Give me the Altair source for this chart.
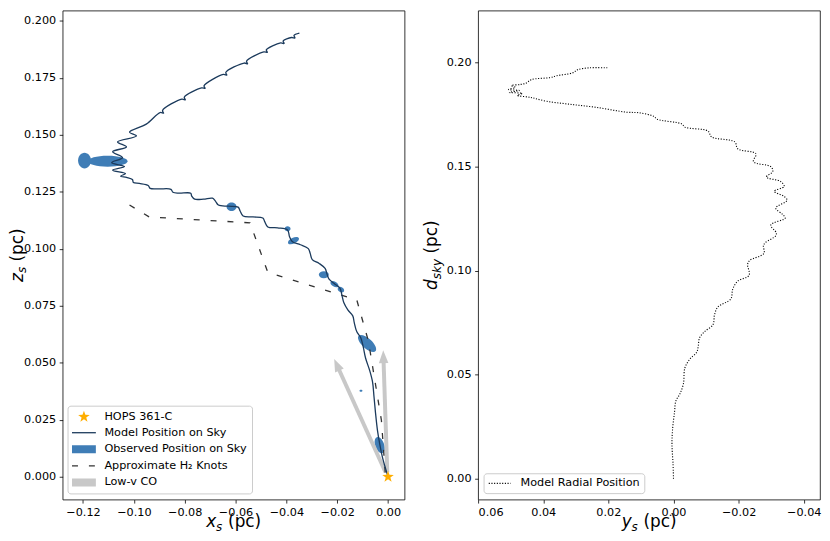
import math
import altair as alt
import pandas as pd

# ---------------- data (pc) ----------------
model_x = [0.0, -0.00105, -0.00222, -0.00319, -0.00416, -0.00494, -0.00552, -0.0061, -0.00727, -0.00882,
           -0.0098, -0.01077, -0.01232, -0.01329, -0.01388, -0.01582, -0.01737, -0.01815, -0.01893, -0.02087,
           -0.0232, -0.02398, -0.02476, -0.02709, -0.02981, -0.03059, -0.03137, -0.03448, -0.03759, -0.03875,
           -0.03953, -0.04342, -0.0473, -0.04847, -0.04925, -0.05313, -0.05702, -0.05819, -0.05897, -0.06285,
           -0.06674, -0.06791, -0.06907, -0.07257, -0.07607, -0.07723, -0.07762, -0.08229, -0.08462, -0.0854,
           -0.09006, -0.09356, -0.09434, -0.09784, -0.10017, -0.10056, -0.10289, -0.10522, -0.10328, -0.10833,
           -0.10367, -0.10872, -0.10444, -0.10833, -0.10289, -0.10639, -0.099, -0.10172, -0.09511,
           -0.08967, -0.08831, -0.0887, -0.08112, -0.07976, -0.08015, -0.07335, -0.07199, -0.07238,
           -0.0648, -0.06344, -0.06382, -0.05663, -0.05527, -0.05566, -0.04886, -0.0475, -0.04789,
           -0.04225, -0.04089, -0.04128, -0.03798, -0.03662, -0.037, -0.03487]
model_z = [0.0, 0.0039, 0.00867, 0.01387, 0.02037, 0.02817, 0.0351, 0.0416, 0.0468, 0.052,
           0.0572, 0.0611, 0.0637, 0.0676, 0.0706, 0.0732, 0.0763, 0.0797, 0.0828, 0.0845,
           0.0867, 0.0888, 0.0914, 0.0936, 0.0953, 0.0979, 0.1001, 0.1018, 0.1031, 0.1053,
           0.1083, 0.1092, 0.1096, 0.1118, 0.1135, 0.114, 0.1144, 0.1166, 0.1183, 0.1187,
           0.1192, 0.1209, 0.1222, 0.1218, 0.1218, 0.1231, 0.1244, 0.1244, 0.1248, 0.1261,
           0.1263, 0.1265, 0.1278, 0.1287, 0.1291, 0.1304, 0.1313, 0.1319, 0.133, 0.1345,
           0.1361, 0.1378, 0.14, 0.1426, 0.1447, 0.1469, 0.1495, 0.1512, 0.1547,
           0.1598, 0.1595, 0.1607, 0.1657, 0.1654, 0.1665, 0.1706, 0.1704, 0.1715,
           0.1765, 0.1762, 0.1774, 0.1815, 0.1812, 0.1823, 0.1864, 0.1862, 0.1873,
           0.1903, 0.1901, 0.1912, 0.1927, 0.1925, 0.1936, 0.1946]

h2_x = [-0.1017, -0.0940, -0.0543, -0.0473, -0.0123, -0.0077, -0.0026, -0.0010]
h2_z = [0.1192, 0.1140, 0.1114, 0.0897, 0.0776, 0.0594, 0.0247, 0.0]

obs_x = [-0.1194, -0.1103, -0.06157, -0.03953, -0.0372, -0.02527, -0.02107, -0.01854, -0.00824, -0.01065, -0.00327]
obs_z = [0.1387, 0.1384, 0.1185, 0.1088, 0.1036, 0.0886, 0.0845, 0.0821, 0.0585, 0.0377, 0.01387]
obs_major = [16, 40, 10, 6, 12, 10, 9, 7, 23, 3, 17]
obs_minor = [13, 11, 8.5, 5, 6, 7, 5, 5, 10, 2, 9]
obs_angle = [90, 0, 0, 0, 335, 0, 30, 30, 42, 0, 70]

co_x0 = [-0.0010, -0.0003]
co_z0 = [0.002, 0.002]
co_x1 = [-0.0199, -0.0018]
co_z1 = [0.0485, 0.0520]
co_angle = [335.7, 358.2]

src_x = [0.0]
src_z = [0.0]

radial_y = [0.0, 0.00015, 0.00046, 0.0003, -0.0003, -0.00076, -0.00197, -0.00304, -0.00349, -0.00501,
            -0.00713, -0.00759, -0.00804, -0.00956, -0.01214, -0.0126, -0.01366, -0.0176, -0.01821, -0.01973,
            -0.02322, -0.02276, -0.02337, -0.02777, -0.02762, -0.02823, -0.03141, -0.03156, -0.0299, -0.0343,
            -0.03339, -0.03141, -0.0349, -0.03384, -0.03096, -0.03399, -0.03293, -0.02853, -0.0305, -0.0299,
            -0.02458, -0.02534, -0.01973, -0.01882, -0.01168, -0.01062, -0.00349, -0.00258, 0.00501, 0.00607,
            0.01062, 0.01457, 0.02367, 0.03187, 0.03885, 0.04401, 0.04795, 0.04644, 0.05038, 0.04735,
            0.05068, 0.04856, 0.04977, 0.04704, 0.04522, 0.0437, 0.03794, 0.03581, 0.03096, 0.02944,
            0.0258, 0.02033]
radial_d = [0.0, 0.0076, 0.0161, 0.0233, 0.0318, 0.0375, 0.0408, 0.0456, 0.0532, 0.0575,
            0.0608, 0.0636, 0.0679, 0.0707, 0.0741, 0.0788, 0.0826, 0.0864, 0.0912, 0.095,
            0.0978, 0.103, 0.1049, 0.1083, 0.1121, 0.1135, 0.1168, 0.1182, 0.122, 0.1253,
            0.1272, 0.1301, 0.1339, 0.1358, 0.1382, 0.1405, 0.1429, 0.145, 0.1477, 0.15,
            0.1524, 0.1562, 0.1586, 0.1619, 0.1643, 0.1671, 0.169, 0.1705, 0.1728, 0.1742,
            0.1759, 0.1762, 0.1785, 0.18, 0.1814, 0.1833, 0.1843, 0.1852, 0.1857, 0.1866,
            0.1871, 0.1881, 0.189, 0.1895, 0.1902, 0.1918, 0.1928, 0.1937, 0.1951, 0.1966,
            0.1975, 0.1975]

left_x_ticks = [-0.12, -0.10, -0.08, -0.06, -0.04, -0.02, 0.0]
left_z_ticks = [0.0, 0.025, 0.05, 0.075, 0.1, 0.125, 0.15, 0.175, 0.2]
right_y_ticks = [0.06, 0.04, 0.02, 0.0, -0.02, -0.04]
right_d_ticks = [0.0, 0.05, 0.1, 0.15, 0.2]

legend_left = ["HOPS 361-C", "Model Position on Sky", "Observed Position on Sky",
               "Approximate H\u2082 Knots", "Low-v CO"]
legend_right = ["Model Radial Position"]

# ---------------- styles ----------------
FONT = "DejaVu Sans"
NAVY = "#1b3a5c"
BLUE = "#3f7db6"
GRAY = "#c8c8c8"
STARC = "#ffae00"
W, H = 344, 492


def rot_path(cmds, deg):
    a = math.radians(deg)
    c, s = math.cos(a), math.sin(a)
    out = []
    for cmd, coords in cmds:
        vals = []
        for j in range(0, len(coords), 2):
            x, y = coords[j], coords[j + 1]
            vals.append(f"{x * c - y * s:.4f} {x * s + y * c:.4f}")
        out.append(cmd + " " + " ".join(vals))
    return " ".join(out) + " Z"


def ellipse_path(ratio, deg):
    k = 0.5523
    r = ratio
    cmds = [("M", [-1, 0]),
            ("C", [-1, -k * r, -k, -r, 0, -r]),
            ("C", [k, -r, 1, -k * r, 1, 0]),
            ("C", [1, k * r, k, r, 0, r]),
            ("C", [-k, r, -1, k * r, -1, 0])]
    return rot_path(cmds, deg)


def head_path(deg):
    return rot_path([("M", [0, -1]), ("L", [0.6, 0.6]), ("L", [-0.6, 0.6])], deg)


def star_path():
    cmds = []
    for k in range(10):
        ang = math.radians(-90 + 36 * k)
        rr = 1.0 if k % 2 == 0 else 0.40
        cmds.append(("M" if k == 0 else "L", [rr * math.cos(ang), rr * math.sin(ang)]))
    return rot_path(cmds, 0)


STAR_PATH = star_path()

model_df = pd.DataFrame({"x": model_x, "z": model_z, "i": list(range(len(model_x)))})
h2_df = pd.DataFrame({"x": h2_x, "z": h2_z, "i": list(range(len(h2_x)))})
obs_df = pd.DataFrame({
    "x": obs_x, "z": obs_z,
    "shp": [ellipse_path(mn / mj, a) for mj, mn, a in zip(obs_major, obs_minor, obs_angle)],
    "sz": [float(mj * mj) for mj in obs_major],
})
co_df = pd.DataFrame({"x0": co_x0, "z0": co_z0, "x1": co_x1, "z1": co_z1,
                      "shp": [head_path(a) for a in co_angle]})
src_df = pd.DataFrame({"x": src_x, "z": src_z})
rad_df = pd.DataFrame({"y": radial_y, "d": radial_d, "i": list(range(len(radial_y)))})
one = pd.DataFrame({"a": [0]})

xs = alt.Scale(domain=[-0.128, 0.0065], nice=False, zero=False)
zs = alt.Scale(domain=[-0.01, 0.2045], nice=False, zero=False)
xax = alt.Axis(values=left_x_ticks, format=".2f", title=None)
zax = alt.Axis(values=left_z_ticks, format=".3f", title=None)

ell = alt.Chart(obs_df).mark_point(filled=True, opacity=1, color=BLUE).encode(
    x=alt.X("x:Q", scale=xs, axis=xax), y=alt.Y("z:Q", scale=zs, axis=zax),
    shape=alt.Shape("shp:N", scale=None),
    size=alt.Size("sz:Q", scale=None),
)
shafts = alt.Chart(co_df).mark_rule(color=GRAY, strokeWidth=4).encode(
    x="x0:Q", y="z0:Q", x2="x1", y2="z1")
heads = alt.Chart(co_df).mark_point(filled=True, opacity=1, color=GRAY, size=256).encode(
    x="x1:Q", y="z1:Q", shape=alt.Shape("shp:N", scale=None))
h2 = alt.Chart(h2_df).mark_line(color="#333333", strokeWidth=1.3, strokeDash=[6, 11]).encode(
    x="x:Q", y="z:Q", order="i:Q")
model = alt.Chart(model_df).mark_line(color=NAVY, strokeWidth=1.3, interpolate="catmull-rom").encode(
    x="x:Q", y="z:Q", order="i:Q")
star = alt.Chart(src_df).mark_point(shape=STAR_PATH, filled=True, opacity=1, color=STARC, size=150).encode(
    x="x:Q", y="z:Q")


def txt(s, x, y, size=11.3, italic=False, angle=0, baseline="middle"):
    kw = dict(text=s, font=FONT, fontSize=size, color="black", align="left", baseline=baseline)
    if italic:
        kw["fontStyle"] = "italic"
    if angle:
        kw["angle"] = angle
    return alt.Chart(one).mark_text(**kw).encode(x=alt.value(x), y=alt.value(y))


lbox = alt.Chart(one).mark_rect(fill="white", fillOpacity=0.8, stroke="#cccccc", strokeWidth=1,
                                cornerRadius=3).encode(
    x=alt.value(5.4), x2=alt.value(191), y=alt.value(398), y2=alt.value(486.3))
ly = [408.7, 424.7, 441.3, 458, 474.7]
l_star = alt.Chart(one).mark_point(shape=STAR_PATH, filled=True, opacity=1, color=STARC, size=150).encode(
    x=alt.value(21.4), y=alt.value(ly[0]))
l_line = alt.Chart(one).mark_rule(color=NAVY, strokeWidth=1.3).encode(
    x=alt.value(9.4), x2=alt.value(33.4), y=alt.value(ly[1]))
l_rect = alt.Chart(one).mark_rect(color=BLUE).encode(
    x=alt.value(9.4), x2=alt.value(33.4), y=alt.value(ly[2] - 4), y2=alt.value(ly[2] + 4))
l_dash = alt.Chart(one).mark_rule(color="#333333", strokeWidth=1.3, strokeDash=[6, 11]).encode(
    x=alt.value(9.4), x2=alt.value(33.4), y=alt.value(ly[3]))
l_co = alt.Chart(one).mark_rect(color=GRAY).encode(
    x=alt.value(9.4), x2=alt.value(33.4), y=alt.value(ly[4] - 4), y2=alt.value(ly[4] + 4))
l_txt = [txt(s, 42, yy) for s, yy in zip(legend_left, ly)]

TS, SS = 17, 12
XT0 = W / 2 - 27.6
xt = [txt("x", XT0, 520, TS, True, baseline="alphabetic"),
      txt("s", XT0 + 10, 523.5, SS, True, baseline="alphabetic"),
      txt("(pc)", XT0 + 22, 520, TS, baseline="alphabetic")]
ZB = -40.4
zt = [txt("z", ZB, 273, TS, True, angle=270, baseline="alphabetic"),
      txt("s", ZB + 3.5, 264.1, SS, True, angle=270, baseline="alphabetic"),
      txt("(pc)", ZB, 252.4, TS, angle=270, baseline="alphabetic")]

left = alt.layer(ell, shafts, heads, h2, model, star, lbox, l_star, l_line, l_rect, l_dash, l_co,
                 *l_txt, *xt, *zt).properties(width=W, height=H)

# ---------------- right panel ----------------
ys = alt.Scale(domain=[-0.045, 0.06], reverse=True, nice=False, zero=False)
ds = alt.Scale(domain=[-0.01, 0.225], nice=False, zero=False)
rad = alt.Chart(rad_df).mark_line(color="black", strokeWidth=1.1, strokeDash=[1.1, 1.6],
                                  interpolate="catmull-rom").encode(
    x=alt.X("y:Q", scale=ys, axis=alt.Axis(values=right_y_ticks, format=".2f", title=None)),
    y=alt.Y("d:Q", scale=ds, axis=alt.Axis(values=right_d_ticks, format=".2f", title=None)),
    order="i:Q")
rbox = alt.Chart(one).mark_rect(fill="white", fillOpacity=0.8, stroke="#cccccc", strokeWidth=1,
                                cornerRadius=3).encode(
    x=alt.value(6), x2=alt.value(167.7), y=alt.value(466), y2=alt.value(486))
r_dot = alt.Chart(one).mark_rule(color="black", strokeWidth=1.1, strokeDash=[1.1, 1.6]).encode(
    x=alt.value(10.7), x2=alt.value(32.7), y=alt.value(475.7))
r_txt = txt(legend_right[0], 42.7, 475.7)
yt = [txt("y", XT0, 520, TS, True, baseline="alphabetic"),
      txt("s", XT0 + 10, 523.5, SS, True, baseline="alphabetic"),
      txt("(pc)", XT0 + 22, 520, TS, baseline="alphabetic")]
DB = -41
dt = [txt("d", DB, 281, TS, True, angle=270, baseline="alphabetic"),
      txt("sky", DB + 3.5, 270.2, SS, True, angle=270, baseline="alphabetic"),
      txt("(pc)", DB, 244.5, TS, angle=270, baseline="alphabetic")]

right = alt.layer(rad, rbox, r_dot, r_txt, *yt, *dt).properties(width=W, height=H)

chart = alt.hconcat(left, right, spacing=17).properties(padding=0).configure_axis(
    labelFont=FONT, labelFontSize=11.3, labelColor="black", tickColor="black",
    tickSize=3.5, tickWidth=0.8, labelPadding=3.5, grid=False, domain=False,
).configure_view(stroke="black", strokeWidth=0.8)

chart.save("out.html", embed_options={"renderer": "svg", "actions": False})
